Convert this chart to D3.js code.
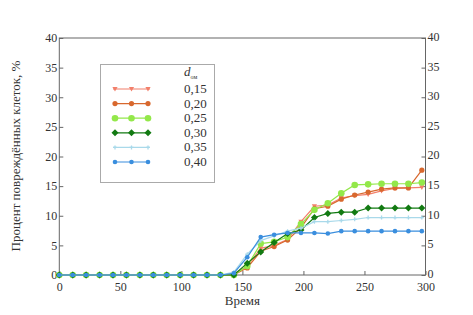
<!DOCTYPE html>
<html><head><meta charset="utf-8">
<script src="https://cdn.jsdelivr.net/npm/d3@7"></script>
<style>body{margin:0;background:#fff}svg{display:block}text{font-family:"Liberation Serif","Times New Roman",serif;fill:#333}</style>
</head><body><svg id="c" width="473" height="315"></svg>
<script>
const times = d3.range(0, 298, 11); // 0..297
const zeros13 = [0,0,0,0,0,0,0,0,0,0,0,0,0];
const s015 = zeros13.concat([0.2,1.5,4.5,5.0,6.0,9.0,11.6,11.8,13.0,13.4,13.6,14.2,14.6,14.7,14.8]);
const s020 = zeros13.concat([0.0,1.2,4.0,4.8,5.9,8.0,11.2,11.6,12.8,13.5,14.0,14.5,14.7,14.7,17.7]);
const s025 = zeros13.concat([0.0,1.5,5.3,5.6,6.4,8.6,11.0,12.1,13.8,15.2,15.3,15.4,15.4,15.4,15.6]);
const s030 = zeros13.concat([0.0,2.0,3.9,5.5,7.0,7.6,9.7,10.4,10.6,10.6,11.3,11.3,11.3,11.3,11.3]);
const s035 = zeros13.concat([0.5,3.5,5.8,6.6,7.4,7.9,9.0,9.0,9.2,9.4,9.7,9.7,9.7,9.7,9.7]);
const s040 = zeros13.concat([0.3,3.0,6.4,6.8,7.1,7.1,7.1,7.0,7.4,7.4,7.4,7.4,7.4,7.4,7.4]);
const seriesNames = ["0,15","0,20","0,25","0,30","0,35","0,40"];
const seriesValues = [s015,s020,s025,s030,s035,s040];
const xTicks = [0,50,100,150,200,250,300];
const yTicks = [0,5,10,15,20,25,30,35,40];
const colors = ["#f27f6a","#d8682e","#93e84a","#127a12","#a9d9ea","#3a8ede"];
const markers = ["tri","circle","bigcircle","diamond","cross","smallcircle"];

const FONT = "Liberation Serif, Times New Roman, serif";
const svg = d3.select("#c");
const L=59.3, R=425.5, T=38, B=275;
const x = d3.scaleLinear().domain([0,300]).range([L,R]);
const y = d3.scaleLinear().domain([0,40]).range([B,T]);
const axisCol = "#666";

svg.append("rect").attr("x",L).attr("y",T).attr("width",R-L).attr("height",B-T)
  .attr("fill","none").attr("stroke",axisCol).attr("stroke-width",1);

function styleAxis(g){g.select(".domain").remove();g.selectAll("line").attr("stroke",axisCol);
  g.attr("font-family",FONT);
  g.selectAll("text").attr("font-size","12px").attr("fill","#333").attr("font-family",FONT);}
svg.append("g").attr("transform",`translate(0,${B})`)
  .call(d3.axisBottom(x).tickValues(xTicks).tickSizeInner(-4).tickSizeOuter(0).tickPadding(7)).call(styleAxis);
svg.append("g").attr("transform",`translate(${L},0)`)
  .call(d3.axisLeft(y).tickValues(yTicks).tickSizeInner(-4).tickSizeOuter(0).tickPadding(4)).call(styleAxis)
  .selectAll("text").attr("x",-2);
svg.append("g").attr("transform",`translate(${R},0)`)
  .call(d3.axisRight(y).tickValues(yTicks).tickSizeInner(-4).tickSizeOuter(0).tickPadding(4)).call(styleAxis)
  .selectAll("text").attr("x",2).attr("dy","0.2em");

svg.append("text").attr("x",(L+R)/2).attr("y",305).attr("text-anchor","middle").attr("font-size","13px")
  .attr("font-family",FONT).text("Время");
svg.append("text").attr("transform","translate(20,156) rotate(-90)").attr("text-anchor","middle").attr("font-size","13px")
  .attr("font-family",FONT).text("Процент повреждённых клеток, %");

function drawMarker(g, type, cx, cy, col){
  if(type==="circle") g.append("circle").attr("cx",cx).attr("cy",cy).attr("r",2.6).attr("fill",col);
  else if(type==="bigcircle") g.append("circle").attr("cx",cx).attr("cy",cy).attr("r",3.3).attr("fill",col);
  else if(type==="smallcircle") g.append("circle").attr("cx",cx).attr("cy",cy).attr("r",2.3).attr("fill",col);
  else if(type==="diamond") g.append("path").attr("d",`M${cx},${cy-3.5}L${cx+3.5},${cy}L${cx},${cy+3.5}L${cx-3.5},${cy}Z`).attr("fill",col);
  else if(type==="tri") g.append("path").attr("d",`M${cx-2.6},${cy-2}L${cx+2.6},${cy-2}L${cx},${cy+2.6}Z`).attr("fill",col);
  else if(type==="cross") g.append("path").attr("d",`M${cx-2},${cy}L${cx+2},${cy}M${cx},${cy-2}L${cx},${cy+2}`).attr("stroke",col).attr("stroke-width",1.3);
}

const line = d3.line().x((d,i)=>x(times[i])).y(d=>y(d));
seriesValues.forEach((vals,si)=>{
  const g = svg.append("g");
  g.append("path").datum(vals).attr("d",line).attr("fill","none").attr("stroke",colors[si]).attr("stroke-width",1.2);
  vals.forEach((v,i)=>drawMarker(g,markers[si],x(times[i]),y(v),colors[si]));
});

const lg = svg.append("g");
lg.append("rect").attr("x",100.5).attr("y",64.5).attr("width",114).attr("height",118).attr("fill","#fff").attr("stroke","#aaa");
const hd = lg.append("text").attr("x",184).attr("y",76).attr("font-size","13px").attr("font-style","italic").attr("font-family",FONT);
hd.append("tspan").text("d");
hd.append("tspan").attr("dy",3).attr("font-size","6px").attr("font-style","normal").text("ом");
seriesNames.forEach((n,si)=>{
  const yy = 89 + si*14.6;
  lg.append("line").attr("x1",113).attr("x2",150).attr("y1",yy).attr("y2",yy).attr("stroke",colors[si]).attr("stroke-width",1.2);
  [115,131.5,148].forEach(cx=>drawMarker(lg,markers[si],cx,yy,colors[si]));
  lg.append("text").attr("x",184).attr("y",yy+4).attr("font-size","13px").attr("font-family",FONT).text(n);
});
</script></body></html>
